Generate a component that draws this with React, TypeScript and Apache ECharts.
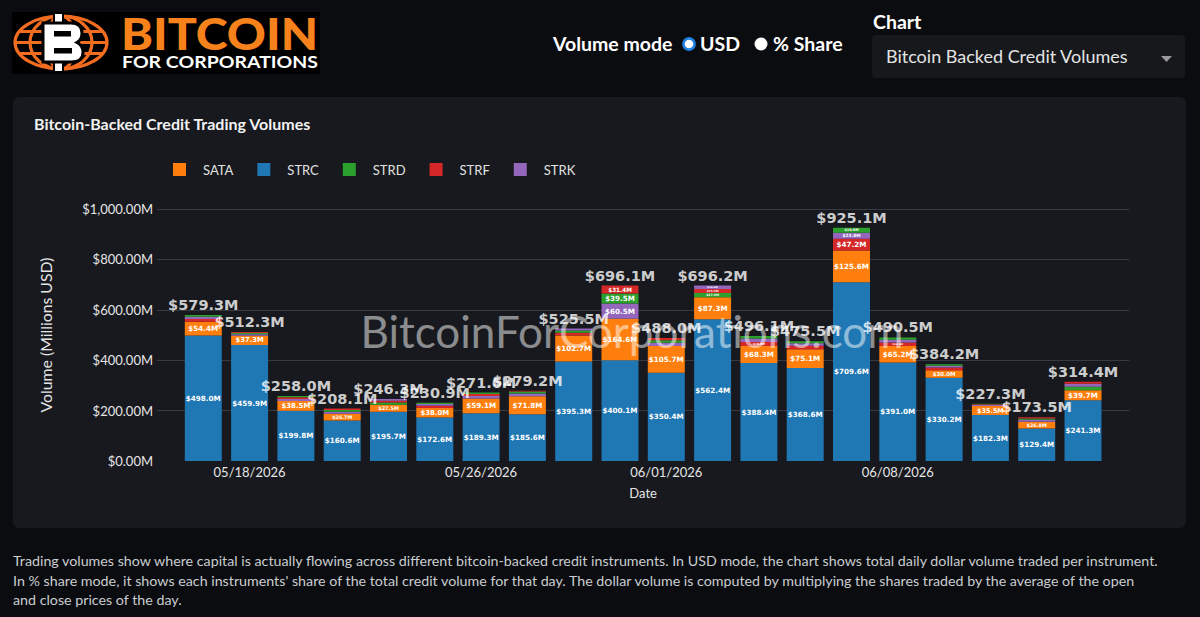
import React, { useEffect, useRef } from "react";
import * as echarts from "echarts";

const DATES = [
  "05/15/2026", "05/18/2026", "05/19/2026", "05/20/2026", "05/21/2026",
  "05/22/2026", "05/26/2026", "05/27/2026", "05/28/2026", "05/29/2026",
  "06/01/2026", "06/02/2026", "06/03/2026", "06/04/2026", "06/05/2026",
  "06/08/2026", "06/09/2026", "06/10/2026", "06/11/2026", "06/12/2026",
];
const TICK_LABELS = ["05/18/2026", "05/26/2026", "06/01/2026", "06/08/2026"];
const INSTRUMENTS = ["SATA", "STRC", "STRD", "STRF", "STRK"];

const SATA = [54.4, 37.3, 38.5, 26.7, 27.5, 38.0, 59.1, 71.8, 102.7, 164.6, 105.7, 87.3, 68.3, 75.1, 125.6, 65.2, 30.0, 35.5, 26.8, 39.7];
const STRC = [498.0, 459.9, 199.8, 160.6, 195.7, 172.6, 189.3, 185.6, 395.3, 400.1, 350.4, 562.4, 388.4, 368.6, 709.6, 391.0, 330.2, 182.3, 129.4, 241.3];
const STRD = [6.6, 5.0, 5.2, 6.8, 8.5, 5.0, 6.0, 8.0, 9.0, 39.5, 10.4, 17.0, 10.2, 8.3, 18.9, 9.1, 6.0, 2.3, 5.5, 13.4];
const STRF = [11.2, 4.5, 6.5, 6.0, 7.8, 8.3, 7.8, 3.6, 11.0, 31.4, 8.5, 15.5, 16.0, 13.5, 47.2, 14.0, 11.0, 3.2, 4.8, 8.0];
const STRK = [9.1, 5.6, 8.0, 8.0, 6.8, 7.0, 9.4, 10.2, 7.5, 60.5, 13.0, 14.0, 13.2, 10.0, 23.8, 11.2, 7.0, 4.0, 7.0, 12.0];

const Y_MIN = 0;
const Y_MAX = 1000;
const Y_STEP = 200;

const VALUES: Record<string, number[]> = { SATA, STRC, STRD, STRF, STRK };
const COLORS: Record<string, string> = {
  SATA: "#ff7f0e",
  STRC: "#1f77b4",
  STRD: "#2ca02c",
  STRF: "#d62728",
  STRK: "#9467bd",
};

const FOOTER_LINES = [
  "Trading volumes show where capital is actually flowing across different bitcoin-backed credit instruments. In USD mode, the chart shows total daily dollar volume traded per instrument.",
  "In % share mode, it shows each instruments' share of the total credit volume for that day. The dollar volume is computed by multiplying the shares traded by the average of the open",
  "and close prices of the day.",
];

const PLOT_H = 252; // plot height in px, used only to size inner labels
const money1 = (v: number) => "$" + v.toFixed(1) + "M";

function buildOption() {
  const totals = DATES.map((_, i) => INSTRUMENTS.reduce((s, n) => s + VALUES[n][i], 0));

  const legendSeries = INSTRUMENTS.map((n) => ({
    name: n,
    type: "bar",
    stack: "tot",
    barWidth: 37,
    itemStyle: { color: COLORS[n] },
    data: [] as any[],
  }));

  const rankSeries = [0, 1, 2, 3, 4].map((k) => ({
    name: "rank" + k,
    type: "bar",
    stack: "tot",
    barWidth: 37,
    z: 2,
    label: {
      position: "inside",
      color: "#ffffff",
      fontFamily: "DejaVu Sans",
      fontWeight: "bold",
      formatter: (p: any) => money1(Number(p.value)),
    },
    data: [
      "-",
      ...DATES.map((_, i) => {
        const sorted = INSTRUMENTS.map((n) => ({ n, v: VALUES[n][i] })).sort((a, b) => b.v - a.v);
        const it = sorted[k];
        const h = (it.v / (Y_MAX - Y_MIN)) * PLOT_H;
        const fs = Math.min(7.2, h * 0.72);
        return {
          value: it.v,
          itemStyle: { color: COLORS[it.n] },
          label: { show: fs >= 2.5, fontSize: fs },
        };
      }),
      "-",
    ],
  }));

  const totalSeries = {
    name: "total",
    type: "scatter",
    symbolSize: 1,
    itemStyle: { color: "rgba(0,0,0,0)" },
    z: 10,
    label: {
      show: true,
      position: "top",
      distance: 2,
      color: "#ffffff",
      fontFamily: "DejaVu Sans",
      fontWeight: "bold",
      fontSize: 14.5,
      formatter: (p: any) => money1(Number(p.value)),
    },
    data: ["-", ...totals.map((t) => Math.round(t * 10) / 10), "-"],
  };

  return {
    animation: false,
    backgroundColor: "transparent",
    textStyle: { fontFamily: "Lato" },
    title: {
      text: "Bitcoin-Backed Credit Trading Volumes",
      left: 21,
      top: 18,
      padding: 0,
      textStyle: { color: "#f2f2f2", fontSize: 16, fontWeight: "bold", fontFamily: "Lato" },
    },
    legend: {
      data: INSTRUMENTS,
      left: 160,
      top: 66,
      padding: 0,
      itemWidth: 13,
      itemHeight: 13,
      itemGap: 24,
      icon: "rect",
      textStyle: { color: "#e2e2e2", fontSize: 13, fontFamily: "Lato", padding: [0, 0, 0, 12] },
    },
    grid: { left: 144, right: 56.7, top: 112, bottom: 67 },
    xAxis: {
      type: "category",
      boundaryGap: false,
      data: ["", ...DATES, ""],
      axisLine: { show: false },
      axisTick: { show: false },
      splitLine: { show: false },
      axisLabel: {
        interval: (_i: number, v: string) => TICK_LABELS.includes(v),
        color: "#e6e6e6",
        fontSize: 13,
        fontFamily: "Lato",
        margin: 4,
      },
      name: "Date",
      nameLocation: "middle",
      nameGap: 25,
      nameTextStyle: { color: "#e6e6e6", fontSize: 13, fontFamily: "Lato" },
    },
    yAxis: {
      type: "value",
      min: Y_MIN,
      max: Y_MAX,
      interval: Y_STEP,
      axisLine: { show: false },
      axisTick: { show: false },
      axisLabel: {
        color: "#e6e6e6",
        fontSize: 13,
        fontFamily: "Lato",
        margin: 4,
        formatter: (v: number) =>
          "$" + v.toLocaleString("en-US", { minimumFractionDigits: 2, maximumFractionDigits: 2 }) + "M",
      },
      splitLine: { show: true, showMinLine: false, lineStyle: { color: "#373a41", width: 1 } },
      name: "Volume (Millions USD)",
      nameLocation: "middle",
      nameGap: 104,
      nameTextStyle: { color: "#e6e6e6", fontSize: 15.8, fontFamily: "Lato" },
    },
    graphic: [
      {
        type: "text",
        x: 619,
        y: 234,
        z: 5,
        silent: true,
        style: {
          text: "BitcoinForCorporations.com",
          fill: "rgba(255,255,255,0.5)",
          font: "44px Lato",
          textAlign: "center",
          textVerticalAlign: "middle",
        },
      },
    ],
    series: [...legendSeries, ...rankSeries, totalSeries],
  };
}

function Logo() {
  const orange = "#f26d1f";
  const ry = 26.5;
  const rx = 46;
  const cx = 61;
  const cy = 42.5;
  const lat = (dy: number) => rx * Math.sqrt(1 - (dy / ry) * (dy / ry));
  return (
    <svg width={330} height={90} style={{ position: "absolute", left: 0, top: 0 }}>
      <rect x={12} y={12} width={308} height={62} fill="#000" />
      <g fill="none" stroke={orange} strokeWidth={3.2}>
        <ellipse cx={cx} cy={cy} rx={rx} ry={ry} />
        <ellipse cx={cx} cy={cy} rx={31} ry={ry} />
        <ellipse cx={cx} cy={cy} rx={15} ry={ry} />
        <line x1={cx - lat(11)} y1={cy - 11} x2={cx + lat(11)} y2={cy - 11} />
        <line x1={cx - rx} y1={cy} x2={cx + rx} y2={cy} />
        <line x1={cx - lat(11)} y1={cy + 11} x2={cx + lat(11)} y2={cy + 11} />
      </g>
      <rect x={54} y={13} width={9} height={13} fill="#fff" stroke="#000" strokeWidth={2} />
      <rect x={54} y={59} width={9} height={13} fill="#fff" stroke="#000" strokeWidth={2} />
      <path
        d="M43 23 H71 Q82 23 82 33 Q82 39.5 77 42.5 Q83 45.5 83 52.5 Q83 62 71 62 H43 Z"
        fill="#fff"
        stroke="#000"
        strokeWidth={3}
      />
      <rect x={54} y={31} width={17} height={5.5} fill="#000" />
      <rect x={54} y={48} width={18} height={5.5} fill="#000" />
      <text
        x={121}
        y={50}
        fill="#f7821b"
        fontFamily="Lato"
        fontWeight={900}
        fontSize={44}
        textLength={197}
        lengthAdjust="spacingAndGlyphs"
      >
        BITCOIN
      </text>
      <text
        x={122}
        y={68}
        fill="#ffffff"
        fontFamily="Lato"
        fontWeight={700}
        fontSize={17.5}
        textLength={196}
        lengthAdjust="spacingAndGlyphs"
      >
        FOR CORPORATIONS
      </text>
    </svg>
  );
}

export default function App() {
  const ref = useRef<HTMLDivElement>(null);

  useEffect(() => {
    if (!ref.current) return;
    const chart = echarts.init(ref.current, null, { renderer: "svg" });
    chart.setOption(buildOption() as any);
    return () => chart.dispose();
  }, []);

  const headText: React.CSSProperties = {
    position: "absolute",
    color: "#ffffff",
    fontFamily: "Lato, sans-serif",
    fontWeight: 700,
    fontSize: 19.5,
    lineHeight: "24px",
    whiteSpace: "nowrap",
  };

  return (
    <div
      style={{
        position: "fixed",
        left: 0,
        top: 0,
        width: 1200,
        height: 617,
        background: "#0b0c0f",
        overflow: "hidden",
        fontFamily: "Lato, sans-serif",
      }}
    >
      <Logo />

      <div style={{ ...headText, left: 553, top: 32 }}>Volume mode</div>
      <svg width={16} height={16} style={{ position: "absolute", left: 681, top: 36 }}>
        <circle cx={8} cy={8} r={5.6} fill="#ffffff" stroke="#1f7fe0" strokeWidth={2.6} />
      </svg>
      <div style={{ ...headText, left: 700, top: 32 }}>USD</div>
      <svg width={16} height={16} style={{ position: "absolute", left: 753, top: 36 }}>
        <circle cx={8} cy={8} r={6.5} fill="#ffffff" />
      </svg>
      <div style={{ ...headText, left: 773, top: 32 }}>% Share</div>

      <div style={{ ...headText, left: 873, top: 10 }}>Chart</div>
      <div
        style={{
          position: "absolute",
          left: 872,
          top: 35,
          width: 313,
          height: 43,
          background: "#16181c",
          borderRadius: 4,
          boxSizing: "border-box",
        }}
      >
        <div
          style={{
            position: "absolute",
            left: 14,
            top: 0,
            lineHeight: "43px",
            fontSize: 18,
            color: "#e4e4e4",
            fontFamily: "Lato, sans-serif",
            whiteSpace: "nowrap",
          }}
        >
          Bitcoin Backed Credit Volumes
        </div>
        <svg width={12} height={8} style={{ position: "absolute", left: 289, top: 21 }}>
          <polygon points="0,0 11,0 5.5,6" fill="#9a9a9a" />
        </svg>
      </div>

      <div
        ref={ref}
        style={{
          position: "absolute",
          left: 13,
          top: 97,
          width: 1173,
          height: 431,
          background: "#17191e",
          borderRadius: 6,
        }}
      />

      <div
        style={{
          position: "absolute",
          left: 13,
          top: 551,
          fontSize: 14.25,
          lineHeight: "19.5px",
          color: "#c9ccd1",
          fontFamily: "Lato, sans-serif",
          whiteSpace: "nowrap",
        }}
      >
        {FOOTER_LINES.map((l, i) => (
          <div key={i}>{l}</div>
        ))}
      </div>
    </div>
  );
}
